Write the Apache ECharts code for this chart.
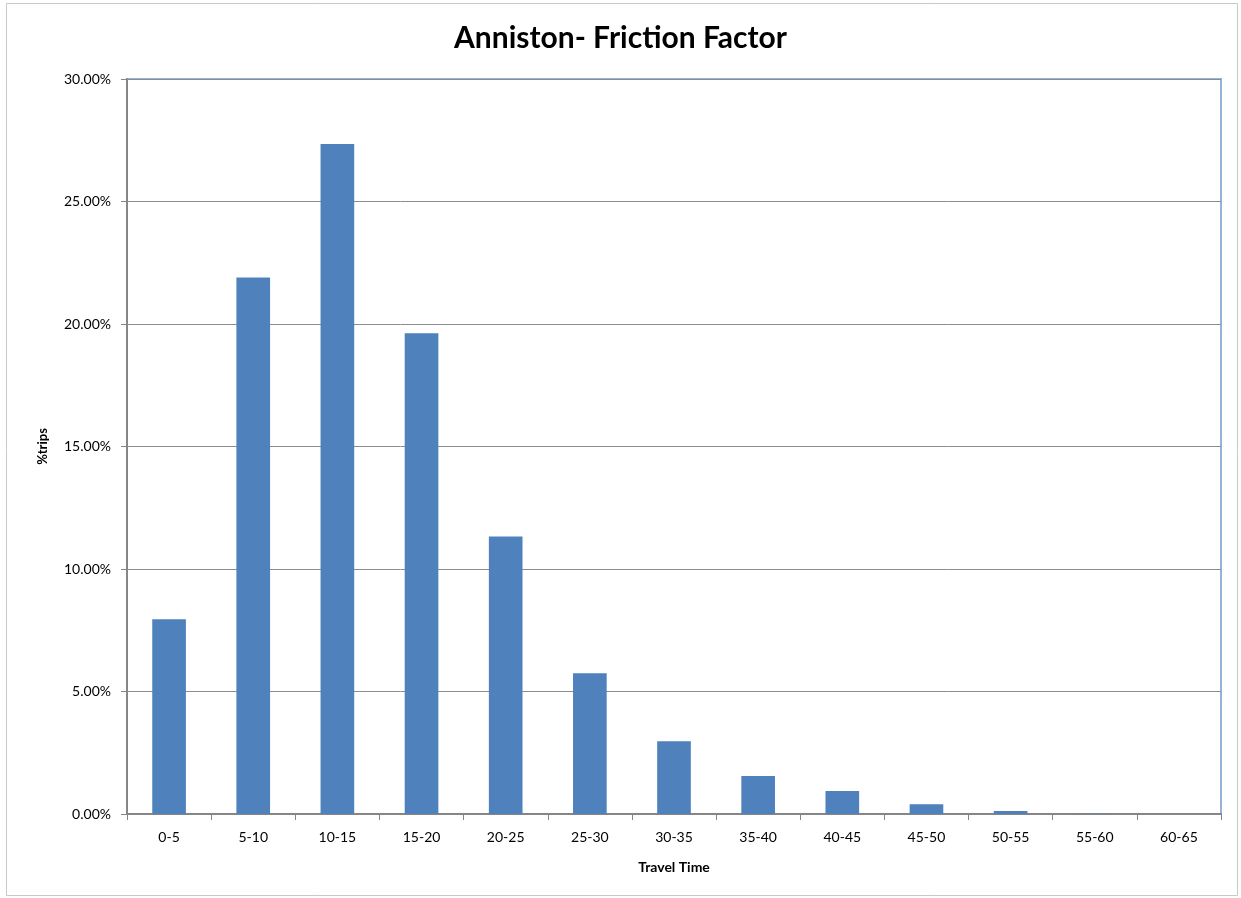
<!DOCTYPE html>
<html>
<head>
<meta charset="utf-8">
<script src="https://cdn.jsdelivr.net/npm/echarts@6/dist/echarts.min.js"></script>
<style>
  html, body { margin: 0; padding: 0; background: #fff; }
  #chart { width: 1241px; height: 898px; }
</style>
</head>
<body>
<div id="chart"></div>
<script>
// travel time bins and share of trips (%)
const categories = ['0-5', '5-10', '10-15', '15-20', '20-25', '25-30', '30-35', '35-40', '40-45', '45-50', '50-55', '55-60', '60-65'];
const tripShare = [7.95, 21.9, 27.35, 19.62, 11.33, 5.75, 2.97, 1.55, 0.94, 0.4, 0.12, 0.01, 0.005];

const chart = echarts.init(document.getElementById('chart'));
const fontFam = 'Lato, "Open Sans", sans-serif';

const option = {
  animation: false,
  textStyle: { fontFamily: fontFam },
  graphic: [{
    type: 'rect',
    shape: { x: 6.5, y: 3.5, width: 1231, height: 892 },
    style: { fill: 'none', stroke: '#c8c8c8', lineWidth: 1 },
    silent: true
  }],
  title: {
    text: 'Anniston- Friction Factor',
    left: 'center',
    top: 18,
    textStyle: { fontSize: 30, fontWeight: 'bold', color: '#000', fontFamily: fontFam }
  },
  grid: {
    left: 127, right: 20, top: 79, bottom: 84,
    show: true,
    borderColor: '#95b3d7',
    borderWidth: 2
  },
  xAxis: {
    type: 'category',
    data: categories,
    name: 'Travel Time',
    nameLocation: 'middle',
    nameGap: 46,
    nameTextStyle: { fontSize: 14, fontWeight: 'bold', color: '#000' },
    axisLine: { lineStyle: { color: '#868686', width: 2 } },
    axisTick: { show: true, length: 6, lineStyle: { color: '#868686' } },
    axisLabel: { fontSize: 14, color: '#000', margin: 16 }
  },
  yAxis: {
    type: 'value',
    min: 0, max: 30, interval: 5,
    name: '%trips',
    nameLocation: 'middle',
    nameGap: 78,
    nameTextStyle: { fontSize: 13, fontWeight: 'bold', color: '#000' },
    axisLine: { show: true, lineStyle: { color: '#868686', width: 2 } },
    axisTick: { show: true, length: 6, lineStyle: { color: '#868686' } },
    axisLabel: { fontSize: 14, color: '#000', margin: 16, formatter: v => v.toFixed(2) + '%' },
    splitLine: { lineStyle: { color: '#8c8c8c', width: 1 } }
  },
  series: [{
    type: 'bar',
    data: tripShare,
    barWidth: '40%',
    itemStyle: { color: '#4f81bd' }
  }]
};

chart.setOption(option);
</script>
</body>
</html>
